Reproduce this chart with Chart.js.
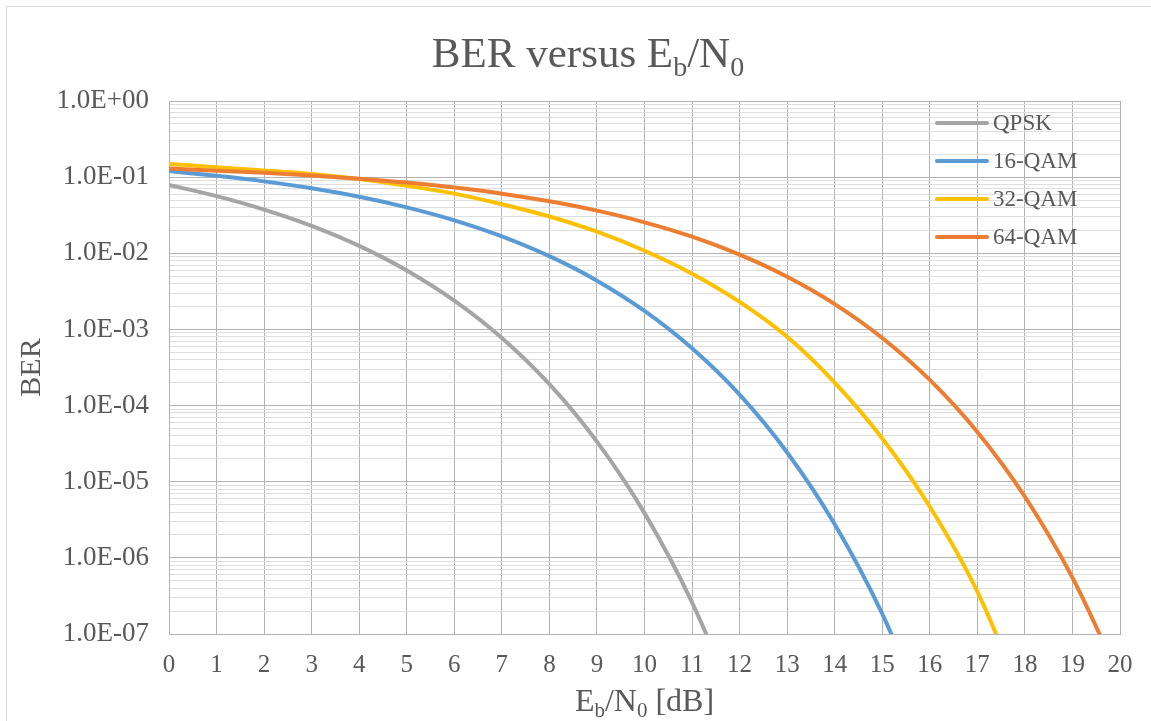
<!DOCTYPE html>
<html>
<head>
<meta charset="utf-8">
<script src="https://cdn.jsdelivr.net/npm/chart.js@4.4.1/dist/chart.umd.min.js"></script>
<style>
  html, body { margin: 0; padding: 0; background: #fff; }
  #wrap { position: relative; width: 1151px; height: 721px; }
</style>
</head>
<body>
<div id="wrap"><canvas id="ber" width="1151" height="721"></canvas></div>
<script>
// Eb/N0 in dB
var ebn0 = [0, 1, 2, 3, 4, 5, 6, 7, 8, 9, 10, 11, 12, 13, 14, 15, 16, 17, 18, 19, 20];

// BER (values past the last one fall below 1e-7 and get clipped)
var qpsk   = [0.0787, 0.0563, 0.0375, 0.0229, 0.0125, 0.00595, 0.00239, 7.73e-4, 1.91e-4, 3.36e-5, 3.87e-6, 2.61e-7, 9.0e-9];
var qam16  = [0.120, 0.104, 0.0880, 0.0714, 0.0552, 0.0401, 0.0271, 0.0167, 0.00916, 0.00437, 0.00175, 5.64e-4, 1.39e-4, 2.42e-5, 2.76e-6, 1.84e-7, 6.2e-9];
var qam32  = [0.149, 0.135, 0.122, 0.110, 0.0945, 0.0770, 0.0607, 0.0440, 0.0304, 0.0192, 0.0108, 0.0054, 0.0023, 8.0e-4, 2.0e-4, 3.7e-5, 4.7e-6, 3.6e-7, 1.2e-8];
var qam64  = [0.130, 0.1216, 0.1141, 0.1054, 0.0956, 0.0848, 0.0730, 0.0607, 0.0482, 0.0363, 0.0255, 0.0165, 0.00958, 0.00491, 0.00215, 7.72e-4, 2.17e-4, 4.50e-5, 6.35e-6, 5.5e-7, 2.6e-8];

var seriesNames  = ['QPSK', '16-QAM', '32-QAM', '64-QAM'];
var seriesData   = [qpsk, qam16, qam32, qam64];
var seriesColors = ['#a5a5a5', '#5b9bd5', '#ffc000', '#ed7d31'];

var yExponents  = [-7, -6, -5, -4, -3, -2, -1, 0];
var yTickLabels = ['1.0E-07', '1.0E-06', '1.0E-05', '1.0E-04', '1.0E-03', '1.0E-02', '1.0E-01', '1.0E+00'];
var minorSteps  = [2, 3, 4, 5, 6, 7, 8, 9];

var TXT = '#595959';
var SERIF = '"Liberation Serif", "Times New Roman", serif';
var MAJOR = '#b2b2b2';
var MINOR = '#dedede';

function isDecade(v) {
  var e = Math.round(Math.log10(v));
  return Math.abs(v / Math.pow(10, e) - 1) < 1e-6;
}

// text with subscripts, centered on cx
function drawRich(ctx, parts, cx, baseline, size) {
  var total = 0;
  parts.forEach(function (p) {
    ctx.font = (p[1] ? Math.round(size * 0.65) : size) + 'px ' + SERIF;
    total += ctx.measureText(p[0]).width;
  });
  var x = cx - total / 2;
  parts.forEach(function (p) {
    ctx.font = (p[1] ? Math.round(size * 0.65) : size) + 'px ' + SERIF;
    ctx.fillText(p[0], x, p[1] ? baseline + size * 0.2 : baseline);
    x += ctx.measureText(p[0]).width;
  });
}

var decor = {
  id: 'decor',
  beforeDraw: function (chart) {
    var ctx = chart.ctx;
    ctx.save();
    ctx.strokeStyle = '#d9d9d9';
    ctx.lineWidth = 1;
    ctx.strokeRect(6.5, 6.5, 1160, 740);
    ctx.restore();
  },
  afterDraw: function (chart) {
    var ctx = chart.ctx;
    var area = chart.chartArea;
    ctx.save();
    ctx.fillStyle = TXT;
    ctx.textBaseline = 'alphabetic';
    ctx.textAlign = 'left';
    drawRich(ctx, [['BER versus E', 0], ['b', 1], ['/N', 0], ['0', 1]], 588, 67, 43);
    drawRich(ctx, [['E', 0], ['b', 1], ['/N', 0], ['0', 1], [' [dB]', 0]], (area.left + area.right) / 2, 711, 32);

    // legend inside the plot
    ctx.font = '23px ' + SERIF;
    ctx.textBaseline = 'middle';
    ctx.lineCap = 'round';
    chart.data.datasets.forEach(function (ds, i) {
      var y = 123 + i * 38;
      ctx.strokeStyle = ds.borderColor;
      ctx.lineWidth = 4;
      ctx.beginPath();
      ctx.moveTo(937, y);
      ctx.lineTo(987, y);
      ctx.stroke();
      ctx.fillStyle = TXT;
      ctx.fillText(ds.label, 993, y + 1);
    });
    ctx.restore();
  }
};

var datasets = seriesNames.map(function (name, i) {
  return {
    label: name,
    data: seriesData[i].map(function (v, j) { return { x: ebn0[j], y: v }; }),
    borderColor: seriesColors[i],
    backgroundColor: seriesColors[i],
    borderWidth: 4,
    pointRadius: 0,
    cubicInterpolationMode: 'monotone',
    order: seriesNames.length - i
  };
});

new Chart(document.getElementById('ber'), {
  type: 'line',
  data: { datasets: datasets },
  plugins: [decor],
  options: {
    responsive: false,
    devicePixelRatio: 1,
    animation: false,
    events: [],
    layout: { padding: { top: 101, right: 31, left: 0, bottom: 0 } },
    plugins: {
      legend: { display: false },
      title: { display: false },
      tooltip: { enabled: false }
    },
    scales: {
      x: {
        type: 'linear',
        min: 0,
        max: 20,
        afterFit: function (s) { s.height = 87; },
        ticks: {
          stepSize: 1,
          padding: 16,
          color: TXT,
          font: { family: SERIF, size: 25 },
          maxRotation: 0
        },
        grid: { color: MAJOR, lineWidth: 1, drawTicks: false },
        border: { color: MAJOR }
      },
      y: {
        type: 'logarithmic',
        min: 1e-7,
        max: 1,
        afterFit: function (s) { s.width = 169; },
        afterBuildTicks: function (s) {
          var t = [];
          yExponents.forEach(function (e) {
            t.push({ value: Math.pow(10, e) });
            if (e < 0) {
              minorSteps.forEach(function (m) { t.push({ value: m * Math.pow(10, e) }); });
            }
          });
          t.sort(function (a, b) { return a.value - b.value; });
          s.ticks = t;
        },
        ticks: {
          autoSkip: false,
          padding: 20,
          color: TXT,
          font: { family: SERIF, size: 27 },
          callback: function (v) {
            if (!isDecade(v)) return '';
            var idx = yExponents.indexOf(Math.round(Math.log10(v)));
            return idx >= 0 ? yTickLabels[idx] : '';
          }
        },
        grid: {
          drawTicks: false,
          lineWidth: 1,
          color: function (c) {
            if (!c.tick) return MAJOR;
            return isDecade(c.tick.value) ? MAJOR : MINOR;
          }
        },
        border: { color: MAJOR },
        title: {
          display: true,
          text: 'BER',
          color: TXT,
          font: { family: SERIF, size: 30 },
          padding: { top: 14, bottom: 0 }
        }
      }
    }
  }
});
</script>
</body>
</html>
